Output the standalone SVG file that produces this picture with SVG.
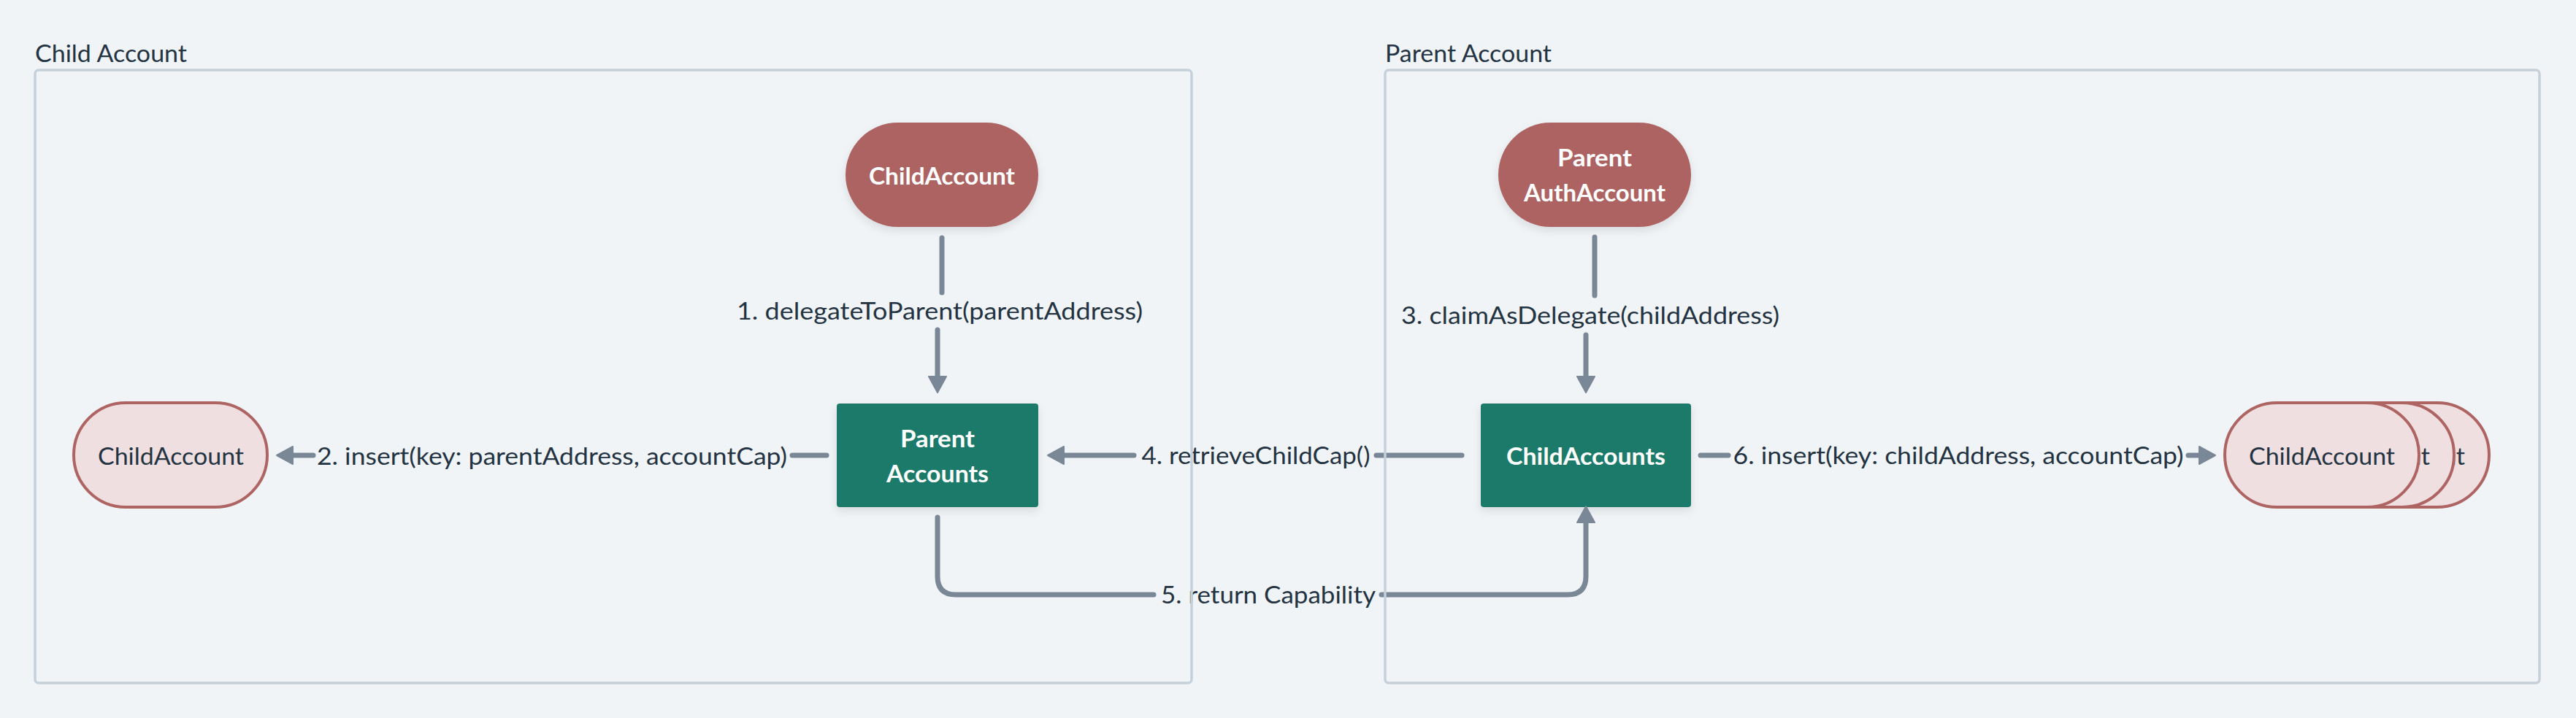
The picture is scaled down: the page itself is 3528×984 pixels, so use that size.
<svg xmlns="http://www.w3.org/2000/svg" width="3528" height="984" viewBox="0 0 3528 984">
<defs>
<style>
.bg{fill:#f0f4f7}
.cont{fill:none;stroke:#c6d0da;stroke-width:3.5}
.title{font-family:Lato,"Open Sans","Liberation Sans",sans-serif;font-size:32px;fill:#243342}
.lbl{font-family:Lato,"Open Sans","Liberation Sans",sans-serif;font-size:32px;fill:#243342;text-anchor:middle}
.ntxt{font-family:Lato,"Open Sans","Liberation Sans",sans-serif;font-size:32px;font-weight:bold;fill:#ffffff;text-anchor:middle}
.dtxt{font-family:Lato,"Open Sans","Liberation Sans",sans-serif;font-size:32px;fill:#243342;text-anchor:middle}
.red{fill:#ad6462}
.teal{fill:#1f7a6a}
.pink{fill:#efdfe0;stroke:#ad6462;stroke-width:4}
.edge{fill:none;stroke:#7a8796;stroke-width:7;stroke-linecap:round;stroke-linejoin:round}
</style>
<marker id="arr" markerUnits="userSpaceOnUse" markerWidth="26" markerHeight="28" viewBox="0 0 26 28" refX="10" refY="14" orient="auto">
<path d="M1,2 L23,14 L1,26 z" fill="#7a8796" stroke="#7a8796" stroke-width="2" stroke-linejoin="round"/>
</marker>
<filter id="sh" x="-20%" y="-20%" width="140%" height="150%">
<feDropShadow dx="0" dy="5" stdDeviation="6" flood-color="#000" flood-opacity="0.10"/>
</filter>
</defs>
<rect class="bg" x="0" y="0" width="3528" height="984"/>

<g id="child-account-container">
<text class="title" x="48" y="85" textLength="208" lengthAdjust="spacingAndGlyphs">Child Account</text>
</g>
<g id="parent-account-container">
<text class="title" x="1897" y="85" textLength="228" lengthAdjust="spacingAndGlyphs">Parent Account</text>
</g>

<g id="child-account-top">
<rect class="red" x="1158" y="168" width="264" height="143" rx="71.5" filter="url(#sh)"/>
<text class="ntxt" x="1290" y="253" textLength="200" lengthAdjust="spacingAndGlyphs">ChildAccount</text>
</g>
<g id="parent-accounts">
<rect class="teal" x="1146" y="553" width="276" height="142" rx="4" filter="url(#sh)"/>
<text class="ntxt" x="1284" y="613" textLength="102" lengthAdjust="spacingAndGlyphs">Parent</text>
<text class="ntxt" x="1284" y="661" textLength="140" lengthAdjust="spacingAndGlyphs">Accounts</text>
</g>
<g id="child-account-left">
<rect class="pink" x="101" y="552" width="265" height="143" rx="71.5"/>
<text class="dtxt" x="234" y="637" textLength="200" lengthAdjust="spacingAndGlyphs">ChildAccount</text>
</g>
<g id="parent-authaccount">
<rect class="red" x="2052" y="168" width="264" height="143" rx="71.5" filter="url(#sh)"/>
<text class="ntxt" x="2184" y="228" textLength="102" lengthAdjust="spacingAndGlyphs">Parent</text>
<text class="ntxt" x="2184" y="276" textLength="194" lengthAdjust="spacingAndGlyphs">AuthAccount</text>
</g>
<g id="child-accounts">
<rect class="teal" x="2028" y="553" width="288" height="142" rx="4" filter="url(#sh)"/>
<text class="ntxt" x="2172" y="637" textLength="218" lengthAdjust="spacingAndGlyphs">ChildAccounts</text>
</g>
<g id="child-account-stack">
<rect class="pink" x="3143" y="552" width="266" height="143" rx="71.5"/>
<text class="dtxt" x="3276" y="637" textLength="200" lengthAdjust="spacingAndGlyphs">ChildAccount</text>
<rect class="pink" x="3095" y="552" width="266" height="143" rx="71.5"/>
<text class="dtxt" x="3228" y="637" textLength="200" lengthAdjust="spacingAndGlyphs">ChildAccount</text>
<rect class="pink" x="3047" y="552" width="266" height="143" rx="71.5"/>
<text class="dtxt" x="3180" y="637" textLength="200" lengthAdjust="spacingAndGlyphs">ChildAccount</text>
</g>

<g id="connectors">
<path class="edge" d="M1290,326 V401"/>
<path class="edge" d="M1284,452 V525" marker-end="url(#arr)"/>
<text class="lbl" x="1287" y="438" textLength="556" lengthAdjust="spacingAndGlyphs">1. delegateToParent(parentAddress)</text>

<path class="edge" d="M1132,624 H1085"/>
<path class="edge" d="M429,624 H392" marker-end="url(#arr)"/>
<text class="lbl" x="756" y="637" textLength="644" lengthAdjust="spacingAndGlyphs">2. insert(key: parentAddress, accountCap)</text>

<path class="edge" d="M2184,325 V405"/>
<path class="edge" d="M2172,459 V525" marker-end="url(#arr)"/>
<text class="lbl" x="2178" y="444" textLength="518" lengthAdjust="spacingAndGlyphs">3. claimAsDelegate(childAddress)</text>

<path class="edge" d="M2002,624 H1885"/>
<path class="edge" d="M1553,624 H1448" marker-end="url(#arr)"/>
<text class="lbl" x="1720" y="636" textLength="313" lengthAdjust="spacingAndGlyphs">4. retrieveChildCap()</text>

<path class="edge" d="M1284,709 V790 Q1284,815 1309,815 H1580"/>
<path class="edge" d="M1892,815 H2147 Q2172,815 2172,790 V707" marker-end="url(#arr)"/>
<text class="lbl" x="1737" y="827" textLength="294" lengthAdjust="spacingAndGlyphs">5. return Capability</text>

<path class="edge" d="M2329,624 H2367"/>
<path class="edge" d="M2997,624 H3021" marker-end="url(#arr)"/>
<text class="lbl" x="2682" y="636" textLength="617" lengthAdjust="spacingAndGlyphs">6. insert(key: childAddress, accountCap)</text>
</g>

<g id="container-borders">
<rect class="cont" x="48" y="96" width="1584" height="840" rx="5"/>
<rect class="cont" x="1897" y="96" width="1581" height="840" rx="5"/>
</g>
</svg>
